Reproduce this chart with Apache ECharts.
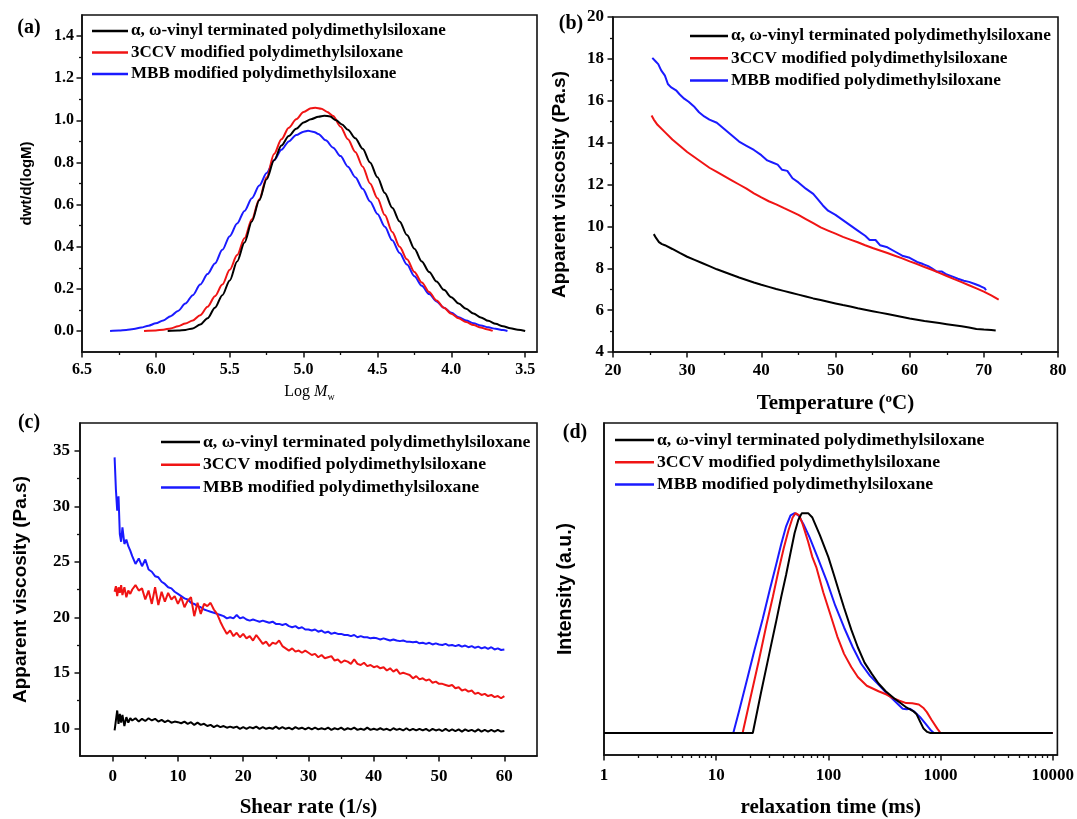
<!DOCTYPE html>
<html><head><meta charset="utf-8">
<script src="https://cdn.jsdelivr.net/npm/echarts@6/dist/echarts.min.js"></script>
<style>html,body{margin:0;padding:0;background:#fff}#c{width:1077px;height:819px}</style>
</head><body><div id="c"></div>
<script>
// ---------- names / colours ----------
const seriesNames = ['α, ω-vinyl terminated polydimethylsiloxane', '3CCV modified polydimethylsiloxane', 'MBB modified polydimethylsiloxane'];
const seriesColors = ['#000000', '#f01414', '#1a1aff'];
const panelLabels = ['(a)', '(b)', '(c)', '(d)'];

// ---------- tick values ----------
const molTicks = [3.5, 4.0, 4.5, 5.0, 5.5, 6.0, 6.5];
const molMinorTicks = [3.75, 4.25, 4.75, 5.25, 5.75, 6.25];
const dwtTicks = [0, 0.2, 0.4, 0.6, 0.8, 1.0, 1.2, 1.4];
const dwtMinorTicks = [0.1, 0.3, 0.5, 0.7, 0.9, 1.1, 1.3];
const shearTicks = [0, 10, 20, 30, 40, 50, 60];
const shearMinorTicks = [5, 15, 25, 35, 45, 55];
const viscCTicks = [10, 15, 20, 25, 30, 35];
const viscCMinorTicks = [12.5, 17.5, 22.5, 27.5, 32.5];
const timeTicks = [1, 10, 100, 1000, 10000];
const timeMinorTicks = [2, 3, 4, 5, 6, 7, 8, 9, 20, 30, 40, 50, 60, 70, 80, 90, 200, 300, 400, 500, 600, 700, 800, 900, 2000, 3000, 4000, 5000, 6000, 7000, 8000, 9000];

// ---------- (a) molecular weight distribution: [logMw, dwt/d(logM)] ----------
const mwdVinyl = [[5.92,0],[5.85,0.002],[5.80,0.005],[5.75,0.012],[5.70,0.03],[5.65,0.06],[5.60,0.11],[5.55,0.17],[5.50,0.24],[5.45,0.33],[5.40,0.42],[5.35,0.52],[5.30,0.62],[5.25,0.72],[5.20,0.81],[5.15,0.88],[5.10,0.925],[5.05,0.96],[5.00,0.99],[4.95,1.005],[4.90,1.017],[4.86,1.022],[4.82,1.018],[4.78,1.0],[4.74,0.98],[4.70,0.955],[4.65,0.915],[4.60,0.865],[4.55,0.80],[4.50,0.73],[4.45,0.655],[4.40,0.585],[4.35,0.52],[4.30,0.455],[4.25,0.39],[4.20,0.33],[4.15,0.28],[4.10,0.235],[4.05,0.195],[4.00,0.16],[3.95,0.13],[3.90,0.105],[3.85,0.083],[3.80,0.064],[3.75,0.048],[3.70,0.034],[3.65,0.022],[3.60,0.013],[3.55,0.006],[3.50,0.0]];
const mwd3CCV = [[6.08,0],[6.0,0.002],[5.95,0.006],[5.90,0.012],[5.85,0.022],[5.80,0.035],[5.75,0.05],[5.70,0.075],[5.65,0.115],[5.60,0.165],[5.55,0.22],[5.50,0.29],[5.45,0.36],[5.40,0.44],[5.35,0.53],[5.30,0.625],[5.25,0.73],[5.20,0.84],[5.15,0.91],[5.10,0.965],[5.05,1.005],[5.00,1.04],[4.95,1.057],[4.92,1.06],[4.88,1.055],[4.84,1.04],[4.80,1.02],[4.75,0.97],[4.70,0.91],[4.65,0.85],[4.60,0.78],[4.55,0.70],[4.50,0.63],[4.45,0.55],[4.40,0.47],[4.35,0.40],[4.30,0.34],[4.25,0.28],[4.20,0.23],[4.15,0.185],[4.10,0.145],[4.05,0.11],[4.00,0.082],[3.95,0.06],[3.90,0.042],[3.85,0.028],[3.80,0.016],[3.76,0.008],[3.72,0.0]];
const mwdMBB = [[6.31,0],[6.25,0.002],[6.20,0.005],[6.15,0.009],[6.10,0.016],[6.05,0.025],[6.00,0.036],[5.95,0.05],[5.90,0.07],[5.85,0.095],[5.80,0.13],[5.75,0.17],[5.70,0.22],[5.65,0.27],[5.60,0.32],[5.55,0.385],[5.50,0.45],[5.45,0.51],[5.40,0.57],[5.35,0.63],[5.30,0.69],[5.25,0.75],[5.20,0.81],[5.15,0.86],[5.10,0.90],[5.05,0.93],[5.00,0.946],[4.97,0.95],[4.93,0.945],[4.90,0.935],[4.85,0.905],[4.80,0.87],[4.75,0.83],[4.70,0.78],[4.65,0.73],[4.60,0.675],[4.55,0.615],[4.50,0.555],[4.45,0.495],[4.40,0.43],[4.35,0.37],[4.30,0.315],[4.25,0.26],[4.20,0.215],[4.15,0.175],[4.10,0.14],[4.05,0.11],[4.00,0.086],[3.95,0.065],[3.90,0.05],[3.85,0.037],[3.80,0.026],[3.75,0.017],[3.70,0.01],[3.65,0.004],[3.62,0.0]];

// ---------- (b) viscosity vs temperature: [°C, Pa.s] ----------
const tempVinyl = [[25.5,9.63],[25.8,9.45],[26.2,9.25],[26.6,9.15],[27,9.1],[28,8.92],[29,8.73],[30,8.55],[31,8.4],[32,8.25],[33,8.1],[34,7.95],[35,7.82],[36,7.69],[37,7.56],[38,7.44],[39,7.32],[40,7.21],[41,7.11],[42,7.01],[43,6.92],[44,6.83],[45,6.74],[46,6.65],[47,6.56],[48,6.48],[49,6.4],[50,6.32],[51,6.24],[52,6.17],[53,6.09],[54,6.02],[55,5.95],[56,5.88],[57,5.81],[58,5.74],[59,5.67],[60,5.6],[61,5.54],[62,5.48],[63,5.43],[64,5.38],[65,5.33],[66,5.28],[67,5.23],[68,5.17],[69,5.1],[70,5.07],[71,5.05],[71.6,5.03]];
const temp3CCV = [[25.2,15.3],[25.5,15.1],[26,14.85],[27,14.5],[28,14.15],[29,13.85],[30,13.55],[31,13.3],[32,13.05],[33,12.8],[34,12.6],[35,12.4],[36,12.2],[37,12.0],[38,11.8],[39,11.58],[40,11.38],[41,11.2],[42,11.05],[43,10.88],[44,10.72],[45,10.55],[46,10.35],[47,10.15],[48,9.95],[49,9.8],[50,9.65],[51,9.5],[52,9.37],[53,9.24],[54,9.1],[55,8.97],[56,8.85],[57,8.73],[58,8.6],[59,8.47],[60,8.33],[61,8.2],[62,8.06],[63,7.93],[64,7.78],[65,7.63],[66,7.48],[67,7.34],[68,7.19],[69,7.04],[70,6.88],[71,6.7],[72,6.5]];
const tempMBB = [[25.3,18.05],[25.7,17.9],[26.1,17.75],[26.5,17.45],[27,17.2],[27.4,16.8],[27.8,16.65],[28.5,16.5],[29,16.3],[29.6,16.1],[30.2,15.95],[31,15.7],[31.6,15.45],[32.3,15.25],[33,15.1],[34,14.95],[35,14.65],[36,14.35],[37,14.05],[38,13.85],[39,13.65],[40,13.4],[40.8,13.15],[41.5,13.05],[42.2,12.95],[42.8,12.7],[43.5,12.65],[44.2,12.3],[45,12.1],[46,11.8],[47,11.55],[47.6,11.3],[48.3,11.0],[49,10.75],[50,10.55],[51,10.3],[52,10.05],[53,9.8],[54,9.55],[54.6,9.35],[55.4,9.35],[56,9.1],[57,9.0],[58,8.8],[59,8.6],[60,8.5],[61,8.3],[61.8,8.2],[62.5,8.1],[63,8.0],[63.6,7.85],[64.3,7.85],[65,7.7],[65.8,7.6],[66.5,7.5],[67.3,7.4],[68,7.35],[68.8,7.25],[69.5,7.15],[70.1,7.05],[70.3,6.95]];

// ---------- (c) viscosity vs shear rate ----------
const shearRate = [0.3,0.5,0.7,0.9,1.1,1.3,1.5,1.8,2.1,2.4,2.7,3.0,
  3.5,4.0,4.5,5.0,5.5,6.0,6.5,7.0,7.5,8.0,8.5,9.0,9.5,10.0,
  10.5,11.0,11.5,12.0,12.5,13.0,13.5,14.0,14.5,15.0,15.5,16.0,16.5,17.0,17.5,18.0,18.5,19.0,19.5,20.0,
  20.5,21.0,21.5,22.0,22.5,23.0,23.5,24.0,24.5,25.0,25.5,26.0,26.5,27.0,27.5,28.0,28.5,29.0,29.5,30.0,
  30.5,31.0,31.5,32.0,32.5,33.0,33.5,34.0,34.5,35.0,35.5,36.0,36.5,37.0,37.5,38.0,38.5,39.0,39.5,40.0,
  40.5,41.0,41.5,42.0,42.5,43.0,43.5,44.0,44.5,45.0,45.5,46.0,46.5,47.0,47.5,48.0,48.5,49.0,49.5,50.0,
  50.5,51.0,51.5,52.0,52.5,53.0,53.5,54.0,54.5,55.0,55.5,56.0,56.5,57.0,57.5,58.0,58.5,59.0,59.5,60.0];
const shearVinyl = [9.8,10.7,11.6,10.4,11.3,10.5,11.2,10.2,11.0,10.5,10.9,10.7,
  10.9,10.6,10.85,10.65,10.9,10.7,10.85,10.6,10.75,10.55,10.7,10.5,10.6,10.55,
  10.45,10.6,10.4,10.55,10.3,10.5,10.3,10.4,10.2,10.3,10.1,10.25,10.1,10.2,10.05,10.15,10.05,10.15,9.95,10.1,
  9.95,10.1,10.0,10.15,9.95,10.1,9.95,10.05,9.95,10.15,9.95,10.1,9.95,10.05,9.9,10.1,9.95,10.05,9.9,10.05,
  9.9,10.05,9.9,10.0,9.9,10.05,9.85,10.0,9.9,10.05,9.85,10.0,9.9,10.05,9.85,9.95,9.85,10.05,9.85,9.95,
  9.85,10.0,9.85,9.95,9.8,10.0,9.85,9.95,9.8,10.0,9.8,9.95,9.8,9.95,9.8,9.95,9.75,9.95,9.8,9.9,
  9.75,9.95,9.75,9.9,9.75,9.9,9.7,9.9,9.75,9.85,9.7,9.9,9.7,9.85,9.7,9.85,9.7,9.85,9.7,9.75];
const shear3CCV = [22.3,22.8,21.9,22.7,22.2,22.9,22.0,22.7,21.8,22.4,22.1,22.5,
  22.9,22.4,22.6,21.6,22.4,21.2,22.7,21.1,22.3,21.4,22.2,21.6,21.9,21.2,
  21.8,20.9,21.5,21.8,20.1,21.3,20.3,21.2,21.0,21.3,20.7,20.3,19.6,19.0,18.5,18.8,18.3,18.6,18.2,18.5,
  18.1,18.3,17.9,18.4,18.0,17.6,17.8,17.4,17.7,17.6,17.9,17.4,17.2,17.0,17.2,16.9,17.0,16.8,17.0,16.8,
  16.6,16.7,16.4,16.6,16.3,16.4,16.5,16.1,16.2,15.9,16.1,16.0,15.8,16.2,15.8,15.7,15.9,15.6,15.7,15.5,
  15.6,15.4,15.5,15.2,15.4,15.1,15.3,14.9,15.0,14.9,14.8,14.5,14.7,14.4,14.5,14.3,14.4,14.1,14.2,14.0,
  14.0,13.9,13.8,13.9,13.6,13.7,13.4,13.5,13.3,13.4,13.1,13.2,13.0,13.1,12.9,13.0,12.8,12.9,12.7,12.9];
const shearMBB = [34.4,31.5,29.6,30.9,27.5,26.8,28.1,26.6,27.0,26.4,26.0,25.5,
  24.8,25.3,24.6,25.2,24.3,24.1,23.7,23.6,23.2,23.0,22.7,22.6,22.3,22.1,
  21.9,21.7,21.6,21.3,21.2,21.0,20.9,20.7,20.6,20.5,20.4,20.3,20.2,20.1,19.9,20.0,19.9,20.2,19.9,20.0,
  19.8,19.7,19.8,19.7,19.6,19.7,19.6,19.5,19.6,19.4,19.4,19.3,19.4,19.2,19.1,19.2,19.0,19.1,18.9,18.9,
  18.8,18.9,18.7,18.8,18.6,18.7,18.5,18.6,18.5,18.5,18.4,18.4,18.3,18.4,18.2,18.3,18.2,18.2,18.1,18.15,
  18.1,18.0,18.1,18.0,17.9,18.0,17.9,17.85,17.9,17.8,17.8,17.75,17.8,17.65,17.7,17.6,17.7,17.55,17.65,17.55,
  17.5,17.6,17.45,17.5,17.4,17.5,17.35,17.45,17.3,17.4,17.25,17.35,17.2,17.3,17.15,17.3,17.1,17.2,17.05,17.1];

// ---------- (d) relaxation time distribution: [ms, intensity] ----------
const relaxVinyl = [[1,0],[21.2,0],[25,0.18],[30,0.37],[34,0.5],[38,0.62],[42,0.72],[46,0.82],[50,0.91],[54,0.97],[58,1.0],[66,1.0],[72,0.98],[84,0.9],[100,0.8],[112,0.72],[125,0.64],[138,0.57],[160,0.47],[183,0.39],[210,0.32],[243,0.27],[280,0.225],[324,0.19],[380,0.16],[430,0.14],[500,0.115],[570,0.1],[612,0.085],[660,0.05],[705,0.02],[760,0.005],[812,0],[10000,0]];
const relax3CCV = [[1,0],[17.2,0],[20,0.15],[24,0.33],[28,0.49],[32,0.62],[36,0.74],[40,0.84],[44,0.92],[48,0.98],[51,1.0],[55,0.99],[59,0.95],[66,0.87],[72,0.8],[78,0.755],[90,0.64],[104,0.54],[120,0.44],[138,0.36],[160,0.3],[183,0.255],[220,0.215],[280,0.19],[330,0.175],[372,0.16],[430,0.147],[494,0.136],[560,0.135],[640,0.13],[700,0.115],[755,0.095],[830,0.06],[935,0.02],[1000,0],[10000,0]];
const relaxMBB = [[1,0],[14.2,0],[16,0.1],[19,0.25],[22,0.38],[26,0.52],[30,0.65],[34,0.76],[38,0.86],[42,0.94],[46,0.99],[50,1.0],[54,0.99],[60,0.95],[68,0.89],[80,0.8],[97,0.69],[115,0.58],[138,0.48],[165,0.39],[196,0.315],[235,0.26],[280,0.22],[325,0.185],[372,0.156],[420,0.13],[460,0.11],[500,0.108],[535,0.11],[590,0.095],[655,0.073],[740,0.04],[810,0.015],[870,0],[10000,0]];

// ---------- styling ----------
const SERIF = '"Liberation Serif","Times New Roman",serif';
const SANS = '"Liberation Sans",Arial,sans-serif';
const AXC = '#111';

function mainAxis(o) {
  const ax = {
    type: o.type || 'value', gridIndex: o.grid, position: o.position,
    min: o.min, max: o.max, inverse: !!o.inverse,
    axisLine: { show: true, onZero: false, lineStyle: { color: AXC, width: 1.6 } },
    axisTick: { show: o.noTicks ? false : true, inside: false, length: 5.5, lineStyle: { color: AXC, width: 1.5 } },
    axisLabel: { show: o.noLabels ? false : true, color: '#000', fontFamily: SERIF, fontWeight: 'bold', fontSize: o.fs || 16, margin: o.margin || 8 },
    splitLine: { show: false }, minorSplitLine: { show: false },
    name: o.name, nameLocation: 'middle', nameGap: o.nameGap, nameTextStyle: o.nameStyle
  };
  if (o.ticks) { ax.axisLabel.customValues = o.ticks; ax.axisTick.customValues = o.ticks; }
  if (o.interval) { ax.interval = o.interval; ax.minorTick = { show: true, splitNumber: 2, length: 3, lineStyle: { color: AXC, width: 1.3 } }; }
  if (o.formatter) ax.axisLabel.formatter = o.formatter;
  return ax;
}
function minorAxis(o) {
  return {
    type: o.type || 'value', gridIndex: o.grid, position: o.position,
    min: o.min, max: o.max, inverse: !!o.inverse,
    axisLine: { show: false, onZero: false },
    axisTick: { show: true, inside: false, length: 3, customValues: o.ticks, lineStyle: { color: AXC, width: 1.3 } },
    axisLabel: { show: false }, splitLine: { show: false }
  };
}
const f1 = v => Number(v).toFixed(1);
const xTitle = { fontFamily: SERIF, fontWeight: 'bold', fontSize: 21, color: '#000' };
const yTitle = { fontFamily: SANS, fontWeight: 'bold', fontSize: 19, color: '#000' };

const grids = [
  { left: 82, top: 15, width: 455, height: 337 },
  { left: 613, top: 17, width: 445, height: 335 },
  { left: 80, top: 423, width: 457, height: 333 },
  { left: 604, top: 423, width: 456, height: 333 }
].map(g => Object.assign(g, { show: true, borderColor: AXC, borderWidth: 1.6, backgroundColor: 'transparent', containLabel: false }));

const xAxes = [
  mainAxis({ grid: 0, position: 'bottom', min: 3.42, max: 6.5, inverse: true, ticks: molTicks, formatter: f1, fs: 16, margin: 10,
    name: '{r|Log }{i|M}{s|w}', nameGap: 30,
    nameStyle: { fontFamily: SERIF, fontSize: 16, color: '#000', rich: { r: { fontFamily: SERIF, fontSize: 16 }, i: { fontFamily: SERIF, fontSize: 16, fontStyle: 'italic' }, s: { fontFamily: SERIF, fontSize: 10, padding: [10, 0, 0, 0] } } } }),
  minorAxis({ grid: 0, position: 'bottom', min: 3.42, max: 6.5, inverse: true, ticks: molMinorTicks }),
  mainAxis({ grid: 1, position: 'bottom', min: 20, max: 80, interval: 10, fs: 17, margin: 10,
    name: '{t|Temperature (}{u|o}{t|C)}', nameGap: 40,
    nameStyle: Object.assign({}, xTitle, { rich: { t: xTitle, u: { fontFamily: SERIF, fontWeight: 'bold', fontSize: 13, padding: [0, 0, 11, 0] } } }) }),
  mainAxis({ grid: 2, position: 'bottom', min: -5, max: 65, ticks: shearTicks, fs: 17, margin: 12,
    name: 'Shear rate (1/s)', nameGap: 41, nameStyle: xTitle }),
  minorAxis({ grid: 2, position: 'bottom', min: -5, max: 65, ticks: shearMinorTicks }),
  mainAxis({ type: 'log', grid: 3, position: 'bottom', min: 1, max: 11000, ticks: timeTicks, fs: 17, margin: 12, formatter: v => String(Math.round(v)),
    name: 'relaxation time (ms)', nameGap: 42, nameStyle: xTitle }),
  minorAxis({ type: 'log', grid: 3, position: 'bottom', min: 1, max: 11000, ticks: timeMinorTicks })
];
const yAxes = [
  mainAxis({ grid: 0, position: 'left', min: -0.1, max: 1.5, ticks: dwtTicks, formatter: f1, fs: 16, margin: 8,
    name: 'dwt/d(logM)', nameGap: 48, nameStyle: Object.assign({}, yTitle, { fontSize: 15 }) }),
  minorAxis({ grid: 0, position: 'left', min: -0.1, max: 1.5, ticks: dwtMinorTicks }),
  mainAxis({ grid: 1, position: 'left', min: 4, max: 20, interval: 2, fs: 17, margin: 9,
    name: 'Apparent viscosity (Pa.s)', nameGap: 44, nameStyle: yTitle }),
  mainAxis({ grid: 2, position: 'left', min: 7.5, max: 37.5, ticks: viscCTicks, fs: 17, margin: 10,
    name: 'Apparent viscosity (Pa.s)', nameGap: 50, nameStyle: yTitle }),
  minorAxis({ grid: 2, position: 'left', min: 7.5, max: 37.5, ticks: viscCMinorTicks }),
  mainAxis({ grid: 3, position: 'left', min: -0.1, max: 1.41, noTicks: true, noLabels: true,
    name: 'Intensity (a.u.)', nameGap: 28, nameStyle: Object.assign({}, yTitle, { fontSize: 19.5 }) })
];

const panelData = [
  { x: 0, y: 0, smooth: 0.3, sets: [mwdVinyl, mwd3CCV, mwdMBB] },
  { x: 2, y: 2, smooth: false, sets: [tempVinyl, temp3CCV, tempMBB] },
  { x: 3, y: 3, smooth: false, sets: [shearVinyl, shear3CCV, shearMBB].map(ys => ys.map((v, i) => [shearRate[i], v])) },
  { x: 5, y: 5, smooth: false, sets: [relaxVinyl, relax3CCV, relaxMBB] }
];
const series = [];
panelData.forEach(p => p.sets.forEach((d, k) => series.push({
  type: 'line', name: seriesNames[k], xAxisIndex: p.x, yAxisIndex: p.y, data: d,
  symbol: 'none', showSymbol: false, smooth: p.smooth, smoothMonotone: p.smooth ? 'x' : undefined, clip: true,
  lineStyle: { color: seriesColors[k], width: 2 }, itemStyle: { color: seriesColors[k] },
  z: 3 - k
})));

const legendPos = [
  { left: 92, top: 22.5, itemWidth: 36, itemGap: 4.5, fs: 17 },
  { left: 690, top: 27.5, itemWidth: 38, itemGap: 5.2, fs: 17.3 },
  { left: 161, top: 433, itemWidth: 39, itemGap: 4.8, fs: 17.7 },
  { left: 615, top: 431, itemWidth: 39, itemGap: 4.3, fs: 17.7 }
];
const legends = legendPos.map(l => ({
  orient: 'vertical', left: l.left, top: l.top, itemWidth: l.itemWidth, itemHeight: 2.5, itemGap: l.itemGap,
  icon: 'rect', selectedMode: false, data: seriesNames, padding: 0,
  textStyle: { fontFamily: SERIF, fontWeight: 'bold', fontSize: l.fs, color: '#000', padding: [0, 0, 0, -2] }
}));

const labelPos = [[29, 28], [571, 24], [29, 423], [575, 433]];
const graphics = panelLabels.map((t, i) => ({
  type: 'text', x: labelPos[i][0], y: labelPos[i][1],
  style: { text: t, font: 'bold 20px ' + SERIF, fill: '#000', textAlign: 'center', textVerticalAlign: 'middle' }
}));

const chart = echarts.init(document.getElementById('c'), null, { renderer: 'canvas' });
chart.setOption({
  animation: false, backgroundColor: '#fff',
  grid: grids, xAxis: xAxes, yAxis: yAxes, series: series, legend: legends, graphic: graphics
});
</script></body></html>
